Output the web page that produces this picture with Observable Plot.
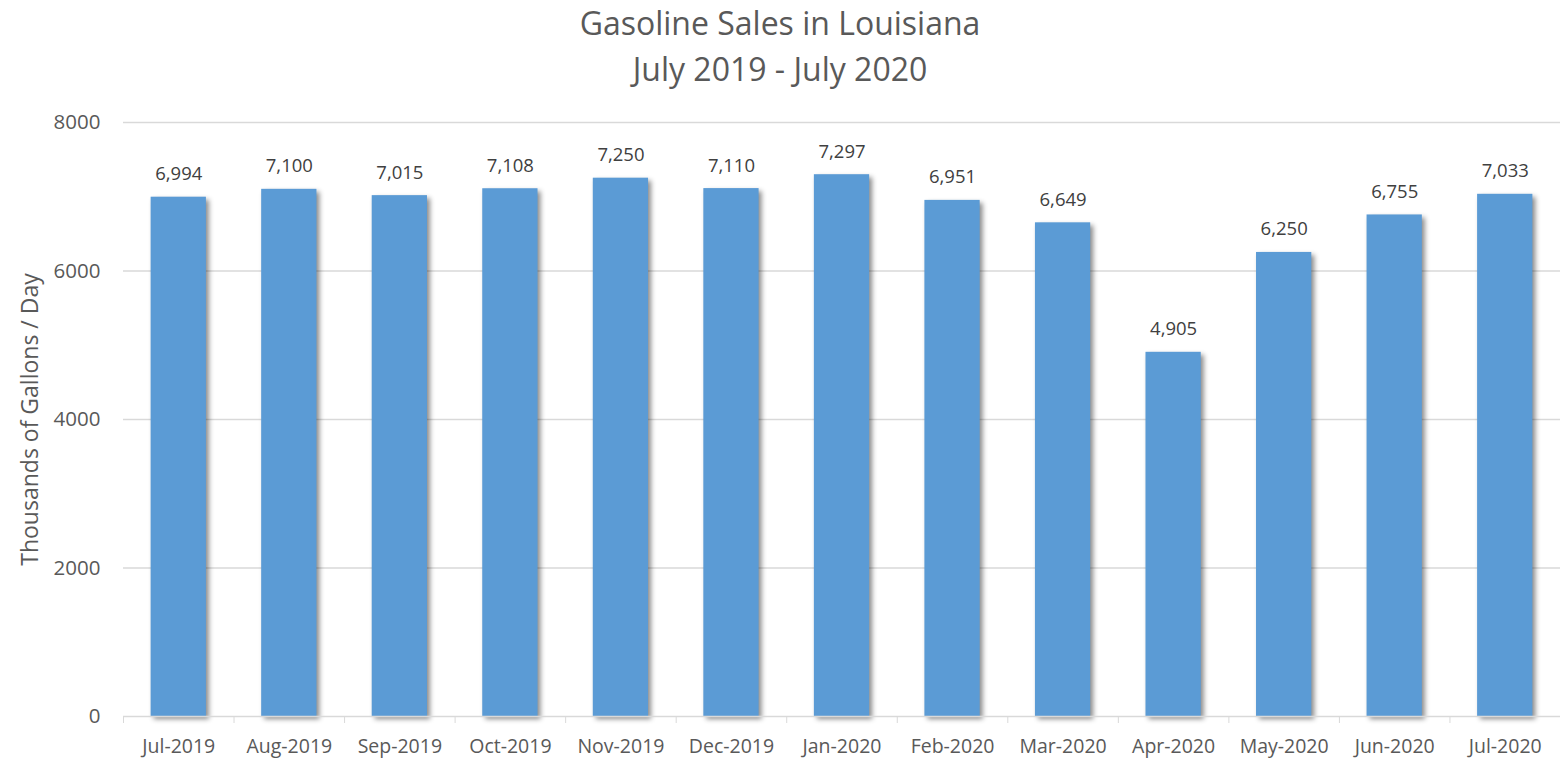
<!DOCTYPE html>
<html>
<head>
<meta charset="utf-8">
<script src="https://cdn.jsdelivr.net/npm/d3@7"></script>
<script src="https://cdn.jsdelivr.net/npm/@observablehq/plot@0.6"></script>
<style>
  body { margin: 0; background: #fff; font-family: "Open Sans", sans-serif; }
  #title { width: 1560px; height: 100px; text-align: center; color: #595959; font-size: 32px; line-height: 46px; padding-top: 0px; box-sizing: border-box; }
  svg { display: block; }
</style>
</head>
<body>
<div id="title">Gasoline Sales in Louisiana<br>July 2019 - July 2020</div>
<div id="chart"></div>
<script>
const months = ["Jul-2019","Aug-2019","Sep-2019","Oct-2019","Nov-2019","Dec-2019","Jan-2020","Feb-2020","Mar-2020","Apr-2020","May-2020","Jun-2020","Jul-2020"];
const sales = [6994, 7100, 7015, 7108, 7250, 7110, 7297, 6951, 6649, 4905, 6250, 6755, 7033];
const yTicks = [0, 2000, 4000, 6000, 8000];
const yLabel = "Thousands of Gallons / Day";

const data = months.map((m, i) => ({month: m, value: sales[i]}));
const W = 1560, H = 658, mL = 123, mR = 0;
const bw = (W - mL - mR) / months.length;
const fmt = d3.format(",");

const chart = Plot.plot({
  width: W, height: H,
  marginLeft: mL, marginRight: mR, marginTop: 22, marginBottom: 42,
  style: {fontFamily: "Open Sans, sans-serif", color: "#595959", fontSize: "19px", background: "#fff", overflow: "visible"},
  x: {domain: months, paddingInner: 0.5, paddingOuter: 0.25, align: 0.5, round: false, label: null},
  y: {domain: [0, 8000], label: null},
  marks: [
    Plot.ruleY(yTicks.filter(d => d > 0), {stroke: "#d9d9d9", strokeWidth: 1.3, strokeOpacity: 1}),
    Plot.barY(data, {x: "month", y: "value", fill: "#5b9bd5"}),
    Plot.ruleY([0], {stroke: "#d9d9d9", strokeWidth: 1.3, strokeOpacity: 1}),
    Plot.axisX({tickSize: 7, dx: -bw/2, tickFormat: () => "", stroke: "#d9d9d9", strokeOpacity: 1, tickPadding: 0, label: null}),
    Plot.axisX({tickSize: 0, tickPadding: 23, fontSize: 19.5, fill: "#595959", label: null}),
    Plot.axisY({ticks: yTicks, tickSize: 0, tickPadding: 23, fontSize: 20.5, fill: "#595959", tickFormat: d => String(d), label: null}),
    Plot.text(data, {x: "month", y: "value", text: d => fmt(d.value), dy: -23, fontSize: 18.5, fill: "#404040", lineAnchor: "middle"}),
    Plot.text([yLabel], {frameAnchor: "left", text: d => d, rotate: -90, dx: -93, fontSize: 23, fill: "#595959", textAnchor: "middle"})
  ]
});
chart.querySelectorAll('g[aria-label="bar"] rect').forEach(r => r.style.filter = "drop-shadow(3px 3px 2.5px rgba(0,0,0,0.45))");
document.getElementById("chart").appendChild(chart);
</script>
</body>
</html>
